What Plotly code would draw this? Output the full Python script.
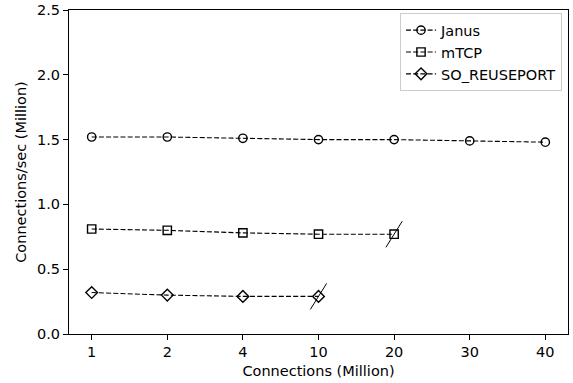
import plotly.graph_objects as go

# ---- data ----
x_labels = ["1", "2", "4", "10", "20", "30", "40"]
janus = [1.52, 1.52, 1.51, 1.50, 1.50, 1.49, 1.48]
mtcp = [0.81, 0.80, 0.78, 0.77, 0.77]
so_reuseport = [0.32, 0.30, 0.29, 0.29]

series = [
    ("Janus", janus, "circle-open", 8.3),
    ("mTCP", mtcp, "square-open", 8.3),
    ("SO_REUSEPORT", so_reuseport, "diamond-open", 9),
]
# series that stopped (last point marked with a slash)
terminated = ["mTCP", "SO_REUSEPORT"]

FONT = "DejaVu Sans"
FS = 14.5
fig = go.Figure()

for name, vals, sym, size in series:
    fig.add_trace(go.Scatter(
        x=x_labels[:len(vals)], y=vals, name=name, mode="lines+markers",
        line=dict(color="black", width=1.1, dash="5px,2.2px"),
        marker=dict(symbol=sym, size=size, color="black",
                    line=dict(color="black", width=1.4)),
    ))

for name, vals, sym, size in series:
    if name in terminated:
        fig.add_trace(go.Scatter(
            x=[x_labels[len(vals) - 1]], y=[vals[-1]], mode="markers",
            showlegend=False, hoverinfo="skip",
            marker=dict(symbol="line-ns", size=22, angle=32, color="black",
                        line=dict(color="black", width=1)),
        ))

axis_common = dict(
    showline=True, linecolor="black", linewidth=1, mirror=True,
    ticks="outside", ticklen=5, tickwidth=1, tickcolor="black",
    showgrid=False, zeroline=False, automargin=False,
    tickfont=dict(family=FONT, size=FS, color="black"),
)

fig.update_layout(
    width=573, height=383,
    margin=dict(l=69, r=5, t=10, b=49),
    paper_bgcolor="white", plot_bgcolor="white",
    font=dict(family=FONT, size=FS, color="black"),
    xaxis=dict(type="category", categoryorder="array", categoryarray=x_labels,
               range=[-0.3, 6.3],
               title=dict(text="Connections (Million)", standoff=6,
                          font=dict(family=FONT, size=FS)),
               **axis_common),
    yaxis=dict(range=[0, 2.5], dtick=0.5, tickformat=".1f",
               title=dict(text="Connections/sec (Million)", standoff=6,
                          font=dict(family=FONT, size=FS)),
               **axis_common),
    legend=dict(x=0.988, y=0.99, xanchor="right", yanchor="top",
                bordercolor="#cccccc", borderwidth=1, bgcolor="rgba(255,255,255,0.8)",
                font=dict(family=FONT, size=FS, color="black"),
                itemwidth=30, tracegroupgap=0),
    showlegend=True,
)

fig.write_html("out.html", config={"displayModeBar": False},
               post_script="document.body.style.margin='0';")
